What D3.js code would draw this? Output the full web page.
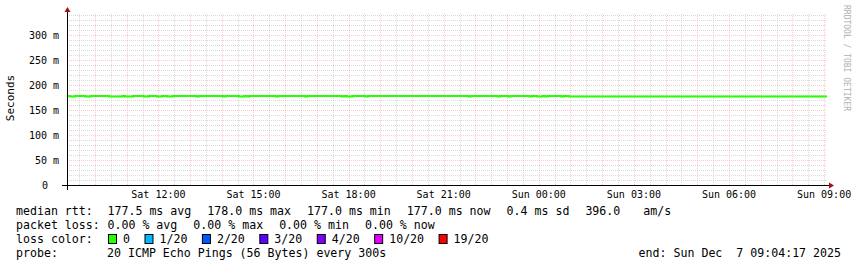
<!DOCTYPE html>
<html>
<head>
<meta charset="utf-8">
<script src="https://cdn.jsdelivr.net/npm/d3@7"></script>
<style>
  body { margin: 0; background: #fff; }
  text { font-family: "DejaVu Sans Mono", monospace; white-space: pre; fill: #000; }
</style>
</head>
<body>
<svg id="graph" width="857" height="267"></svg>
<script>
// median rtt in ms, step changes (minutes after graph start)
const rttChangeMin = [0, 5, 15, 35, 45, 80, 105, 110, 125, 145, 155, 170, 180, 190, 200, 245,
  250, 295, 300, 325, 335, 340, 345, 395, 400, 450, 455, 520, 525, 530, 540, 565,
  570, 760, 765, 815, 820, 835, 840, 875, 880, 890, 900, 905, 910, 935, 940, 950];
const rttValues = [178, 177, 178, 177, 178, 177, 178, 177, 178, 177, 178, 177, 178, 177, 178, 177,
  178, 177, 178, 177, 178, 177, 178, 177, 178, 177, 178, 177, 178, 177, 178, 177,
  178, 177, 178, 177, 178, 177, 178, 177, 178, 177, 178, 177, 178, 177, 178, 177];

const yTickValues = [0, 50, 100, 150, 200, 250, 300];
const lossLabels = ["0", "1/20", "2/20", "3/20", "4/20", "10/20", "19/20"];
const lossColors = ["#26ff00", "#00b8ff", "#0059ff", "#5e00ff", "#7e00ff", "#dd00ff", "#ff0000"];

const rttLegend = ["177.5 ms avg", "178.0 ms max", "177.0 ms min", "177.0 ms now", "0.4 ms sd", "396.0", " am/s"];
const lossLegend = ["0.00 % avg", "0.00 % max", "0.00 % min", "0.00 % now"];
const probeText = "20 ICMP Echo Pings (56 Bytes) every 300s";
const endText = "end: Sun Dec  7 09:04:17 2025";

const svg = d3.select("#graph");

const tStart = new Date(2025, 11, 6, 9, 7, 0),
  tEnd = new Date(2025, 11, 7, 9, 5, 30);

const x = d3.scaleTime().domain([tStart, tEnd]).range([67, 827]);
const y = d3.scaleLinear().domain([0, 342]).range([185, 14]);

const px = v => Math.round(v) + 0.5;
const minorCol = "rgba(185,185,185,0.55)", majorCol = "rgba(255,120,120,0.4)";

// grid
const grid = svg.append("g").attr("stroke-dasharray", "1,1");
d3.range(10, 342, 10).filter(v => v % 50 != 0).forEach(v => {
  grid.append("line")
    .attr("x1", 67).attr("x2", 827).attr("y1", px(y(v))).attr("y2", px(y(v)))
    .attr("stroke", minorCol);
});
x.ticks(d3.timeMinute.every(30)).filter(d => d.getMinutes() == 30).forEach(d => {
  grid.append("line")
    .attr("x1", px(x(d))).attr("x2", px(x(d))).attr("y1", 14).attr("y2", 185)
    .attr("stroke", minorCol);
});
yTickValues.filter(v => v > 0).forEach(v => {
  grid.append("line")
    .attr("x1", 67).attr("x2", 827).attr("y1", px(y(v))).attr("y2", px(y(v)))
    .attr("stroke", majorCol);
});
x.ticks(d3.timeHour.every(1)).forEach(d => {
  grid.append("line")
    .attr("x1", px(x(d))).attr("x2", px(x(d))).attr("y1", 14).attr("y2", 185)
    .attr("stroke", majorCol);
});

// the rtt line
const data = rttChangeMin.map((m, i) => ({ t: new Date(tStart.getTime() + m * 60000), v: rttValues[i] }));
data.push({ t: tEnd, v: rttValues[rttValues.length - 1] });

svg.append("path")
  .datum(data)
  .attr("fill", "none")
  .attr("stroke", lossColors[0])
  .attr("stroke-width", 2)
  .attr("d", d3.line().curve(d3.curveStepAfter).x(d => x(d.t)).y(d => y(d.v)));

// axes
svg.append("line").attr("x1", 62).attr("x2", 829).attr("y1", 185.5).attr("y2", 185.5).attr("stroke", "#000");
svg.append("line").attr("x1", 67.5).attr("x2", 67.5).attr("y1", 190).attr("y2", 11).attr("stroke", "#000");
svg.append("path").attr("d", "M829,182.5 L834,185.5 L829,188.5 Z").attr("fill", "#a01010");
svg.append("path").attr("d", "M64.5,12 L67.5,7 L70.5,12 Z").attr("fill", "#a01010");

// tick labels
svg.append("g").selectAll("text")
  .data(yTickValues)
  .join("text")
  .attr("x", d => d == 0 ? 48 : 59)
  .attr("y", d => y(d) + 3.5)
  .attr("text-anchor", "end")
  .attr("font-size", 10)
  .text(d => d == 0 ? "0" : d + " m");

svg.append("g").selectAll("text")
  .data(x.ticks(d3.timeHour.every(3)))
  .join("text")
  .attr("x", d => x(d))
  .attr("y", 198)
  .attr("text-anchor", "middle")
  .attr("font-size", 10)
  .text(d => d3.timeFormat("%a %H:%M")(d));

svg.append("text")
  .attr("transform", "translate(14,98) rotate(-90)")
  .attr("text-anchor", "middle")
  .attr("font-size", 11)
  .text("Seconds");

svg.append("text")
  .attr("transform", "translate(844,5) rotate(90)")
  .attr("font-size", 8)
  .style("fill", "#b0b0b0")
  .text("RRDTOOL / TOBI OETIKER");

// legend
const fs = 11.6;
function legendRow(label, items, yy) {
  svg.append("text").attr("x", 16).attr("y", yy).attr("font-size", fs).text(label);
  let lx = 107.5;
  items.forEach(s => {
    const t = svg.append("text").attr("x", lx).attr("y", yy).attr("font-size", fs).text(s);
    lx += t.node().getComputedTextLength() + 16;
  });
}
legendRow("median rtt:", rttLegend, 215);
legendRow("packet loss:", lossLegend, 229);

svg.append("text").attr("x", 16).attr("y", 243).attr("font-size", fs).text("loss color:");
let lx = 108;
lossLabels.forEach((l, i) => {
  svg.append("rect").attr("x", lx + 0.5).attr("y", 234.5).attr("width", 8).attr("height", 9)
    .attr("fill", lossColors[i]).attr("stroke", "#000");
  const t = svg.append("text").attr("x", lx + 15).attr("y", 243).attr("font-size", fs).text(l);
  lx += 15 + t.node().getComputedTextLength() + 14.5;
});
svg.append("text").attr("x", 16).attr("y", 257).attr("font-size", fs).text("probe:");
svg.append("text").attr("x", 107).attr("y", 257).attr("font-size", fs).text(probeText);
svg.append("text").attr("x", 841).attr("y", 257).attr("text-anchor", "end").attr("font-size", fs).text(endText);
</script>
</body>
</html>
